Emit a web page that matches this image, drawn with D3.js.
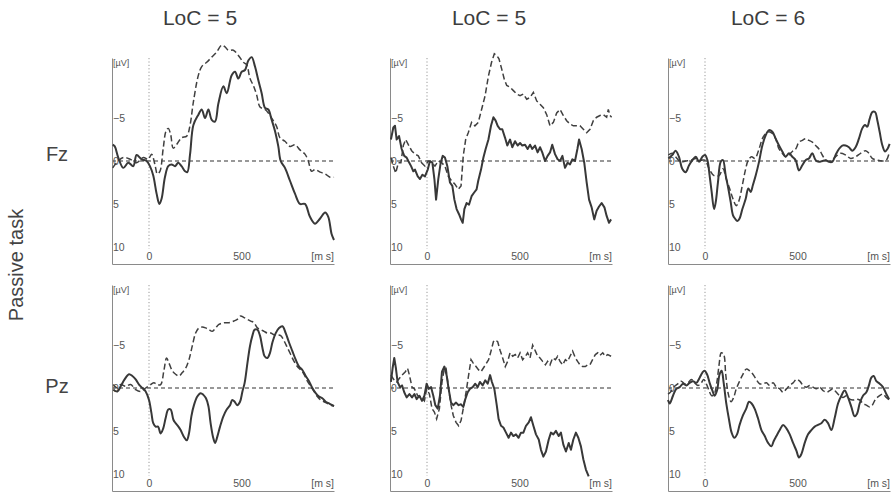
<!DOCTYPE html>
<html>
<head>
<meta charset="utf-8">
<script src="https://cdn.jsdelivr.net/npm/d3@7"></script>
<style>
  html, body { margin: 0; padding: 0; background: #ffffff; }
  svg { display: block; }
  text { font-family: "Liberation Sans", Arial, sans-serif; }
</style>
</head>
<body>
<svg id="chart" width="893" height="499"></svg>
<script>
// Column headers, electrode rows and the condition label
const columnTitles = ["LoC = 5", "LoC = 5", "LoC = 6"];
const electrodes = ["Fz", "Pz"];
const taskLabel = "Passive task";

// Axis ticks
const timeTicks = [0, 500];
const voltTicks = [-5, 0, 5, 10];
const timeUnit = "[m s]";
const voltUnit = "[\u00b5V]";

// Waveforms: [time in ms, amplitude in µV] (negative plotted upward)
const fz1Solid = [[-196,-1.9],[-185,-1.7],[-166,-0.4],[-139,0.8],[-112,0.2],[-85,0.6],[-67,-0.7],[-40,-0.2],[-13,0],[5,0.6],[23,1.7],[41,3.8],[56,5.0],[68,4.4],[86,1.9],[104,0.6],[122,0.4],[141,0.6],[158,0.2],[176,0.6],[195,1.2],[207,1.3],[222,-0.8],[240,-4.2],[267,-5.4],[285,-6.0],[303,-5.0],[321,-6.0],[339,-4.8],[357,-4.6],[375,-6.7],[402,-8.7],[420,-7.9],[447,-10.0],[465,-10.4],[483,-9.6],[501,-10.4],[519,-10.6],[537,-11.7],[555,-12.1],[573,-11.0],[591,-9.4],[609,-7.9],[627,-6.2],[645,-6.0],[663,-4.8],[681,-3.5],[699,-1.7],[712,0],[735,0.8],[762,2.3],[789,3.8],[816,5.0],[843,5.0],[870,6.5],[897,7.3],[925,6.7],[952,6.0],[969,6.5],[987,8.5],[1000,9.2]];
const fz1Dashed = [[-196,0.8],[-175,0.2],[-139,-0.4],[-102,-0.2],[-67,0.2],[-31,-0.4],[-4,-0.2],[14,-0.8],[32,0.4],[45,1.5],[59,1.2],[77,-1.5],[92,-3.5],[104,-3.8],[117,-3.1],[131,-1.5],[149,-1.9],[176,-2.7],[204,-2.9],[222,-4.2],[240,-6.9],[267,-10.0],[285,-11.0],[312,-11.5],[339,-12.1],[366,-12.7],[393,-13.5],[411,-13.3],[429,-12.9],[456,-12.9],[483,-12.3],[510,-11.5],[528,-11.2],[546,-9.6],[564,-8.8],[582,-7.7],[600,-6.3],[627,-6.0],[645,-5.6],[663,-5.0],[690,-4.0],[708,-2.7],[735,-2.3],[762,-1.7],[789,-1.9],[816,-1.3],[843,-0.8],[861,0],[879,1.2],[897,1.0],[925,1.3],[952,1.5],[979,1.9],[1000,1.9]];

const fz2Solid = [[-195,-2.5],[-182,-3.9],[-173,-4.1],[-164,-2.5],[-151,-2.9],[-137,-1.4],[-123,-0.6],[-110,-0.4],[-101,0],[-86,0.6],[-74,1.2],[-65,1.0],[-50,1.8],[-38,2.1],[-25,1.6],[-11,1.8],[4,1.0],[16,0],[29,0.2],[40,2.1],[49,4.5],[61,2.1],[74,0.2],[85,-0.6],[97,-0.4],[110,0.6],[124,2.5],[137,2.9],[148,4.5],[160,5.6],[173,6.2],[184,6.8],[193,7.2],[202,5.6],[214,4.9],[227,5.1],[241,4.1],[254,3.7],[268,3.3],[277,2.3],[292,1.0],[305,-0.4],[317,-1.4],[332,-2.5],[346,-4.1],[359,-5.1],[371,-4.7],[382,-4.1],[395,-3.7],[407,-3.7],[422,-2.7],[434,-1.8],[449,-2.5],[461,-1.6],[476,-2.3],[490,-1.8],[503,-2.1],[515,-1.8],[530,-1.9],[544,-1.4],[557,-1.9],[569,-1.4],[584,-1.8],[598,-1.0],[611,-1.6],[623,-1.0],[638,0],[652,-0.6],[665,-1.0],[677,-1.9],[692,-0.8],[706,-0.2],[719,0],[732,-0.6],[746,0.8],[760,0.2],[773,0.4],[786,-0.2],[800,0],[813,-1.4],[822,-2.5],[836,-1.4],[850,0.2],[863,2.5],[876,4.5],[890,5.4],[904,6.8],[917,5.8],[930,5.3],[944,4.9],[959,5.4],[971,6.4],[984,7.2],[995,6.8]];
const fz2Dashed = [[-195,-0.4],[-182,0.6],[-169,1.4],[-155,0.2],[-141,0.2],[-128,-1.8],[-115,-2.5],[-101,-1.9],[-83,-1.2],[-65,-0.8],[-47,-0.6],[-29,0.2],[-11,0.6],[7,0],[25,0.2],[43,0.6],[61,0],[79,0.2],[97,0.6],[115,1.8],[133,2.3],[151,2.7],[169,3.3],[184,2.9],[196,-0.6],[209,-2.5],[223,-3.3],[241,-4.5],[259,-4.1],[277,-4.5],[295,-6.0],[314,-7.6],[332,-9.9],[349,-11.5],[364,-12.5],[377,-12.3],[389,-11.9],[404,-10.7],[418,-9.5],[431,-8.8],[449,-8.6],[467,-8.2],[485,-7.8],[503,-7.6],[521,-7.8],[539,-7.2],[557,-7.4],[575,-8.0],[593,-7.0],[611,-6.6],[629,-6.2],[647,-5.4],[665,-4.1],[683,-4.5],[701,-5.6],[719,-6.0],[737,-5.3],[755,-4.7],[773,-4.3],[791,-4.1],[809,-4.1],[827,-4.1],[845,-3.7],[863,-3.3],[881,-3.7],[899,-4.7],[917,-5.1],[935,-5.3],[953,-5.4],[971,-5.1],[980,-6.0],[989,-5.3],[998,-5.1]];

const fz3Solid = [[-198,-0.3],[-177,-0.7],[-159,-1.2],[-141,-0.5],[-123,0.9],[-105,1.3],[-86,0.5],[-68,-0.1],[-50,-0.5],[-32,0.1],[-14,-0.5],[0,-0.7],[13,-0.1],[25,1.7],[36,3.6],[49,5.6],[58,4.8],[70,2.5],[85,0.1],[97,-0.1],[112,1.7],[126,3.2],[139,4.8],[151,6.3],[162,6.7],[175,7.0],[187,6.7],[202,5.6],[220,4.4],[234,3.2],[247,3.6],[259,2.8],[274,1.7],[292,0.1],[310,-1.8],[328,-3.0],[346,-3.6],[364,-3.4],[382,-2.6],[400,-1.8],[418,-1.1],[436,-0.5],[454,-0.9],[472,-0.5],[490,-0.1],[508,1.1],[526,0.5],[544,-0.1],[562,-0.3],[580,-0.9],[598,-0.1],[616,0.1],[634,0],[652,-0.1],[670,0.1],[688,0.1],[706,-0.7],[724,-1.4],[742,-1.8],[760,-1.8],[778,-1.6],[796,-1.2],[814,-1.6],[832,-2.6],[850,-3.8],[865,-4.2],[877,-4.0],[890,-4.9],[904,-5.7],[919,-5.7],[932,-4.7],[944,-3.4],[959,-1.8],[973,-1.1],[986,-1.4],[998,-2.0]];
const fz3Dashed = [[-198,-0.7],[-177,-0.9],[-159,-0.5],[-132,0.1],[-105,0],[-77,-0.1],[-50,-0.3],[-23,-0.1],[0,-0.1],[22,0.9],[49,1.7],[76,1.7],[97,0.9],[115,2.1],[133,3.2],[151,4.4],[169,5.2],[184,4.6],[202,2.8],[220,0.9],[234,-0.1],[252,-0.5],[270,-0.3],[292,-1.4],[310,-2.6],[328,-3.2],[346,-3.4],[364,-3.2],[382,-2.6],[400,-1.4],[418,-0.9],[436,-0.5],[454,-0.7],[472,-1.1],[490,-1.4],[508,-2.2],[526,-2.4],[544,-2.6],[562,-2.4],[580,-2.2],[598,-1.8],[616,-1.4],[634,-0.7],[652,-0.1],[679,0],[706,-0.5],[733,-0.9],[760,-0.7],[787,-0.3],[814,-0.5],[841,-0.9],[868,-1.2],[886,-0.9],[904,-0.3],[932,-0.1],[959,0],[980,-0.1],[995,-0.9]];

const pz1Solid = [[-193,0.2],[-171,0.4],[-153,-0.2],[-132,-1.0],[-108,-1.6],[-90,-1.4],[-72,-1.0],[-54,-0.4],[-36,0],[-18,0.4],[0,1.4],[13,2.9],[23,4.1],[36,4.5],[49,4.5],[63,5.3],[77,4.7],[90,3.5],[104,2.5],[117,2.5],[132,3.7],[144,4.1],[159,4.5],[171,4.9],[189,5.7],[204,6.1],[216,5.3],[229,3.3],[243,2.0],[261,1.0],[279,0.6],[294,0.8],[308,1.2],[321,2.1],[333,4.1],[346,5.7],[357,6.4],[369,5.7],[384,4.5],[402,3.3],[420,2.5],[438,2.0],[450,1.4],[463,1.6],[477,2.0],[492,1.6],[505,0.4],[517,-0.6],[532,-2.9],[546,-4.9],[559,-6.1],[571,-6.8],[586,-6.8],[600,-6.1],[613,-4.7],[625,-3.7],[640,-3.5],[654,-4.1],[667,-5.3],[685,-6.4],[703,-7.0],[721,-7.2],[739,-6.4],[757,-5.3],[775,-4.3],[793,-3.3],[811,-2.5],[829,-2.1],[847,-1.4],[865,-0.8],[883,0],[901,0.6],[919,1.0],[937,1.2],[955,1.6],[973,1.8],[991,2.0],[1000,2.1]];
const pz1Dashed = [[-193,-0.4],[-171,0],[-153,-0.4],[-126,-0.2],[-99,-0.4],[-72,0.2],[-45,0.4],[-18,0],[9,-0.4],[27,-0.6],[45,-0.4],[63,-0.4],[81,-2.1],[95,-3.5],[108,-2.9],[126,-2.0],[144,-1.6],[162,-1.4],[180,-1.8],[198,-2.3],[216,-3.3],[234,-4.9],[252,-6.4],[270,-7.0],[288,-7.1],[306,-7.0],[324,-6.8],[342,-6.6],[360,-7.0],[378,-7.4],[405,-7.6],[432,-7.6],[459,-7.8],[477,-8.0],[495,-8.4],[514,-8.2],[532,-8.0],[550,-7.8],[568,-7.6],[586,-7.0],[604,-6.8],[622,-6.6],[640,-6.4],[658,-6.4],[676,-6.2],[694,-6.2],[712,-6.1],[730,-5.5],[748,-4.7],[766,-3.9],[784,-3.1],[802,-2.5],[820,-2.1],[838,-1.6],[856,-0.8],[874,-0.2],[892,0.4],[910,1.0],[928,1.4],[946,1.6],[964,1.8],[982,2.0],[1000,2.1]];

const pz2Solid = [[-195,-0.7],[-186,-2.3],[-177,-3.5],[-168,-2.3],[-159,-0.7],[-146,-0.1],[-135,-0.3],[-123,0.5],[-110,1.1],[-95,0.7],[-81,1.1],[-68,0.7],[-56,1.3],[-41,0.9],[-27,1.5],[-14,0.9],[-2,-0.5],[9,0.1],[22,-0.1],[34,0.9],[45,2.0],[58,2.4],[70,0.9],[81,-1.9],[94,-2.5],[106,-1.5],[117,0.1],[130,1.7],[142,2.0],[157,1.7],[171,2.0],[184,1.9],[196,2.2],[207,1.3],[220,0.5],[232,0.1],[247,-0.1],[261,-0.5],[274,-0.1],[286,-0.7],[301,-0.3],[315,-0.9],[328,-0.5],[341,-1.5],[351,-0.7],[364,0.1],[377,2.0],[387,3.6],[400,4.4],[413,4.6],[427,5.2],[441,5.8],[454,5.2],[467,5.6],[481,5.4],[495,5.8],[508,5.2],[521,5.2],[535,4.4],[550,4.0],[562,3.4],[575,4.4],[589,5.4],[604,6.0],[616,7.2],[629,8.0],[643,7.4],[658,6.0],[670,5.2],[683,5.4],[697,5.0],[712,5.6],[724,5.2],[737,6.6],[751,7.4],[766,6.4],[778,7.2],[791,6.0],[805,5.2],[818,5.8],[832,6.8],[845,8.3],[859,9.5],[874,10.3]];
const pz2Dashed = [[-195,-1.5],[-177,-0.9],[-164,-0.7],[-150,-1.1],[-135,-1.5],[-117,-1.9],[-105,-2.3],[-95,-1.5],[-81,-0.1],[-68,0.1],[-50,0.9],[-32,1.1],[-14,1.5],[-2,0.1],[13,0.7],[27,2.4],[40,2.8],[52,3.6],[67,2.4],[81,-0.7],[94,-2.3],[103,-2.3],[117,0.1],[130,2.0],[142,3.2],[157,4.0],[171,4.4],[184,3.8],[196,2.4],[211,0.5],[225,-1.5],[238,-3.3],[250,-2.9],[265,-2.5],[279,-2.1],[292,-1.9],[304,-2.3],[319,-2.8],[333,-3.3],[346,-4.3],[359,-5.4],[369,-5.6],[382,-5.4],[395,-4.4],[409,-3.5],[423,-2.5],[436,-3.1],[449,-4.1],[463,-3.7],[477,-3.9],[490,-3.5],[503,-4.1],[517,-3.3],[532,-3.7],[544,-4.1],[557,-3.5],[571,-5.0],[586,-4.3],[598,-3.7],[611,-3.5],[625,-3.1],[640,-2.7],[652,-3.1],[665,-2.7],[679,-3.5],[694,-3.3],[706,-3.7],[719,-3.1],[733,-2.7],[748,-3.3],[760,-3.1],[773,-3.7],[787,-4.3],[802,-3.5],[814,-3.1],[827,-2.7],[841,-2.5],[856,-2.5],[868,-2.7],[881,-2.7],[895,-3.3],[910,-3.9],[923,-4.1],[935,-3.8],[950,-4.1],[964,-3.7],[977,-3.9],[995,-3.7]];

const pz3Solid = [[-200,1.4],[-191,1.8],[-173,0.9],[-155,0.1],[-137,-0.1],[-119,-0.5],[-101,-0.3],[-83,-0.6],[-65,-0.8],[-47,-0.6],[-29,-1.2],[-14,-1.8],[-2,-2.0],[11,-1.6],[25,-0.6],[40,0.3],[52,0.9],[65,0.3],[79,-1.6],[90,-2.0],[101,-0.6],[115,1.8],[130,3.7],[144,5.2],[159,5.8],[173,5.4],[187,4.3],[205,3.2],[223,2.4],[238,1.6],[252,1.8],[268,2.4],[286,3.5],[305,4.9],[323,5.6],[341,6.4],[359,6.8],[371,6.2],[386,5.6],[404,4.9],[422,4.3],[440,4.7],[458,5.4],[476,6.4],[494,7.3],[508,8.1],[521,7.7],[539,6.4],[557,5.4],[575,4.9],[593,4.5],[611,4.3],[629,4.1],[647,3.7],[665,4.1],[683,4.9],[701,3.5],[719,1.8],[737,0.9],[755,0.3],[773,1.1],[791,2.2],[809,3.3],[822,3.0],[836,1.8],[854,0.9],[872,0.5],[886,-0.3],[899,-1.2],[912,-1.4],[926,-0.8],[944,-0.5],[962,-0.1],[980,0.7],[995,1.3]];
const pz3Dashed = [[-200,0.7],[-187,0.5],[-169,-0.1],[-146,-0.5],[-128,-0.8],[-110,-0.5],[-92,-0.6],[-74,-1.0],[-56,-0.6],[-38,-0.3],[-20,-0.6],[-7,-1.0],[7,-0.5],[22,0.3],[36,0.9],[50,0.7],[65,-0.8],[76,-2.7],[88,-4.1],[101,-3.9],[112,-1.6],[126,0.7],[141,1.6],[155,1.1],[169,0.1],[187,-0.8],[205,-1.6],[223,-2.2],[241,-2.0],[259,-1.6],[277,-1.0],[295,-0.5],[314,-0.5],[332,-0.6],[350,-0.3],[368,-0.6],[386,-0.1],[404,0.1],[422,0.5],[440,0.1],[458,-0.3],[476,-0.6],[494,-1.0],[512,-0.8],[530,-0.3],[548,-0.1],[566,-0.3],[584,-0.1],[602,0.1],[620,-0.1],[638,0.3],[656,0.5],[674,0.3],[692,0.1],[710,0.5],[728,0.9],[746,1.1],[764,0.9],[782,1.3],[800,1.4],[818,1.3],[836,1.4],[854,1.8],[872,2.0],[890,2.2],[904,2.0],[922,1.3],[944,0.9],[962,0.7],[980,1.1],[998,1.4]];

// Panel grid: which traces go in which cell
const panels = [
  { row: 0, col: 0, solid: fz1Solid, dashed: fz1Dashed, jagged: false },
  { row: 0, col: 1, solid: fz2Solid, dashed: fz2Dashed, jagged: true },
  { row: 0, col: 2, solid: fz3Solid, dashed: fz3Dashed, jagged: false },
  { row: 1, col: 0, solid: pz1Solid, dashed: pz1Dashed, jagged: false },
  { row: 1, col: 1, solid: pz2Solid, dashed: pz2Dashed, jagged: true },
  { row: 1, col: 2, solid: pz3Solid, dashed: pz3Dashed, jagged: false }
];

// Layout
const colLeft = [112, 390, 668];
const rowTop = [58, 285];
const panelW = 222, panelH = 206;
const titleX = [200, 489, 768];
const rowLabelY = [161, 393];
const timeDomain = [-200, 1000];
const voltDomain = [-12, 12];

const svg = d3.select("#chart");
const ink = "#383838";
const axisInk = "#8a8a8a";
const labelInk = "#555";

// Column titles
svg.selectAll("text.col-title")
  .data(columnTitles)
  .join("text")
  .attr("class", "col-title")
  .attr("x", (d, i) => titleX[i])
  .attr("y", 25)
  .attr("text-anchor", "middle")
  .attr("font-size", 21)
  .attr("fill", "#3d3d3d")
  .text(d => d);

// Electrode labels
svg.selectAll("text.row-label")
  .data(electrodes)
  .join("text")
  .attr("class", "row-label")
  .attr("x", 57)
  .attr("y", (d, i) => rowLabelY[i])
  .attr("text-anchor", "middle")
  .attr("font-size", 20)
  .attr("fill", "#444")
  .text(d => d);

// Condition label, rotated
svg.append("text")
  .attr("transform", "translate(23,265) rotate(-90)")
  .attr("text-anchor", "middle")
  .attr("font-size", 20)
  .attr("fill", "#444")
  .text(taskLabel);

panels.forEach(p => {
  const left = colLeft[p.col];
  const top = rowTop[p.row];
  const x = d3.scaleLinear().domain(timeDomain).range([left, left + panelW]);
  const y = d3.scaleLinear().domain(voltDomain).range([top, top + panelH]);
  const g = svg.append("g");

  // Stimulus onset marker
  g.append("line")
    .attr("x1", x(0)).attr("x2", x(0))
    .attr("y1", top).attr("y2", y(10) + 2)
    .attr("stroke", "#999").attr("stroke-width", 1)
    .attr("stroke-dasharray", "1.2,2.2");

  // Zero baseline
  g.append("line")
    .attr("x1", x(timeDomain[0])).attr("x2", x(timeDomain[1]))
    .attr("y1", y(0)).attr("y2", y(0))
    .attr("stroke", "#333").attr("stroke-width", 1.2)
    .attr("stroke-dasharray", "4,3");

  // Amplitude axis with labels inside the frame
  const yAxis = g.append("g")
    .attr("transform", `translate(${left},0)`)
    .call(d3.axisRight(y).tickValues(voltTicks).tickSize(0).tickPadding(1)
      .tickFormat(d3.format("d")));
  yAxis.select(".domain").attr("stroke", axisInk);
  yAxis.selectAll("text").attr("font-size", 10.5).attr("fill", labelInk)
    .attr("font-family", "Liberation Sans, Arial, sans-serif");

  g.append("text")
    .attr("x", left + 1).attr("y", top + 8)
    .attr("font-size", 9).attr("fill", labelInk)
    .text(voltUnit);

  // Time axis with labels above the line
  const xAxis = g.append("g")
    .attr("transform", `translate(0,${top + panelH})`)
    .call(d3.axisTop(x).tickValues(timeTicks).tickSize(0).tickPadding(4)
      .tickFormat(d3.format("d")));
  xAxis.select(".domain").attr("stroke", axisInk);
  xAxis.selectAll("text").attr("font-size", 10.5).attr("fill", labelInk)
    .attr("font-family", "Liberation Sans, Arial, sans-serif");

  g.append("text")
    .attr("x", left + panelW).attr("y", top + panelH - 4)
    .attr("text-anchor", "end")
    .attr("font-size", 10.5).attr("fill", labelInk)
    .text(timeUnit);

  const curve = p.jagged ? d3.curveLinear : d3.curveCatmullRom.alpha(0.5);
  const line = d3.line().x(d => x(d[0])).y(d => y(d[1])).curve(curve);

  g.append("path")
    .datum(p.dashed)
    .attr("d", line)
    .attr("fill", "none")
    .attr("stroke", "#404040")
    .attr("stroke-width", 1.5)
    .attr("stroke-dasharray", "6,3");

  g.append("path")
    .datum(p.solid)
    .attr("d", line)
    .attr("fill", "none")
    .attr("stroke", ink)
    .attr("stroke-width", 2)
    .attr("stroke-linejoin", "round");
});
</script>
</body>
</html>
